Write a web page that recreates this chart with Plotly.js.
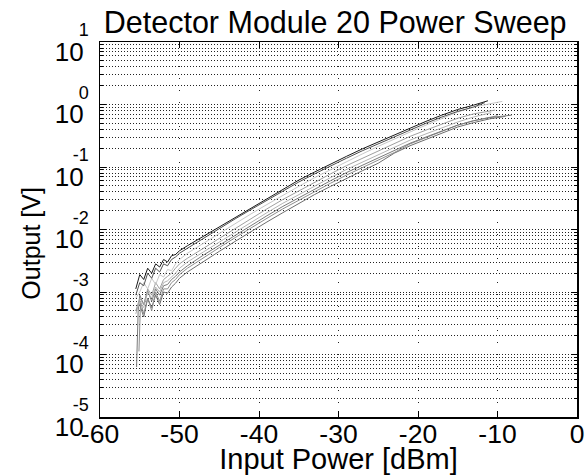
<!DOCTYPE html>
<html>
<head>
<meta charset="utf-8">
<script src="https://cdn.plot.ly/plotly-3.0.1.min.js"></script>
<style>html,body{margin:0;padding:0;background:#fff;}#chart{width:587px;height:475px;}</style>
</head>
<body>
<div id="chart"></div>
<script>
// Input power sample points (dBm)
var noisyX = [-55.5,-55,-54.5,-54,-53.5,-53,-52.5,-52,-51.5,-51,-50.5,-50];
var smoothX = [-49,-47,-45,-43,-41,-39,-37,-35,-33,-31,-29,-27,-25,-23,-21,-19,-17,-15,-13];
var noisyXF = [-55.4,-55.2,-55,-54.5,-54,-53.5,-53,-52.5,-52,-51.5,-51,-50.5,-50];
var noisyXG = [-55.1,-54.9,-54.5,-54,-53.5,-53,-52.5,-52,-51.5,-51,-50.5,-50];
var endX = {A:[-11.2], B:[-11.6], C:[-9.4], D:[-10.3], E:[-10.8], F:[-11,-8.2], G:[-10], H:[-11,-9]};

// Output voltage (V) of each detector channel
var outA = [1.12e-3,1.9e-3,1.585e-3,2.4e-3,2.0e-3,2.82e-3,2.51e-3,3.31e-3,3.02e-3,3.8e-3,3.98e-3,4.57e-3,
  5.5e-3,7.76e-3,1.12e-2,1.585e-2,2.24e-2,3.16e-2,4.47e-2,6.17e-2,8.32e-2,0.112,0.148,0.195,0.251,0.331,0.427,0.537,0.676,0.832,0.977,
  1.148];
var outB = [8.9e-4,1.41e-3,1.26e-3,2.0e-3,1.66e-3,2.4e-3,2.09e-3,2.82e-3,2.63e-3,3.31e-3,3.63e-3,4.17e-3,
  5.01e-3,7.24e-3,1.047e-2,1.479e-2,2.09e-2,2.95e-2,4.17e-2,5.75e-2,7.76e-2,0.105,0.138,0.182,0.234,0.309,0.398,0.501,0.631,0.776,0.912,
  1.072];
var outC = [7.94e-4,1.0e-3,1.41e-3,1.12e-3,1.66e-3,1.32e-3,1.9e-3,1.74e-3,2.29e-3,2.19e-3,2.82e-3,3.31e-3,
  4.17e-3,6.03e-3,8.71e-3,1.23e-2,1.778e-2,2.51e-2,3.55e-2,4.9e-2,6.76e-2,9.12e-2,0.123,0.162,0.214,0.282,0.363,0.468,0.603,0.759,0.912,
  1.122];
var outD = [5.01e-4,7.94e-4,6.31e-4,1.12e-3,8.91e-4,1.41e-3,1.12e-3,1.585e-3,1.78e-3,2.0e-3,2.4e-3,2.82e-3,
  3.47e-3,5.01e-3,7.24e-3,1.047e-2,1.51e-2,2.14e-2,3.02e-2,4.17e-2,5.75e-2,7.76e-2,0.105,0.138,0.182,0.240,0.309,0.389,0.490,0.603,0.708,
  0.813];
var outE = [4.47e-4,7.08e-4,5.62e-4,1.0e-3,7.94e-4,1.2e-3,1.0e-3,1.41e-3,1.51e-3,1.74e-3,2.0e-3,2.4e-3,
  3.02e-3,4.37e-3,6.31e-3,9.12e-3,1.32e-2,1.86e-2,2.63e-2,3.63e-2,5.01e-2,6.76e-2,9.12e-2,0.120,0.158,0.209,0.269,0.339,0.427,0.525,0.631,
  0.741];
var outF = [6.31e-5,5.01e-4,8.91e-4,6.31e-4,1.047e-3,7.08e-4,1.12e-3,8.91e-4,1.26e-3,1.32e-3,1.585e-3,1.78e-3,2.09e-3,
  2.63e-3,3.89e-3,5.62e-3,8.13e-3,1.175e-2,1.66e-2,2.34e-2,3.24e-2,4.47e-2,6.03e-2,8.13e-2,0.107,0.141,0.186,0.240,0.302,0.380,0.468,0.550,
  0.617,0.676];
var outG = [1.12e-4,7.08e-4,4.47e-4,7.94e-4,5.01e-4,1.0e-3,7.08e-4,1.12e-3,1.12e-3,1.41e-3,1.585e-3,1.9e-3,
  2.4e-3,3.55e-3,5.13e-3,7.41e-3,1.07e-2,1.51e-2,2.14e-2,2.95e-2,4.07e-2,5.5e-2,7.41e-2,9.77e-2,0.129,0.170,0.234,0.295,0.372,0.468,0.550,
  0.661];
var outH = [5.01e-4,6.31e-4,3.98e-4,7.94e-4,5.62e-4,8.91e-4,6.31e-4,1.0e-3,9.55e-4,1.2e-3,1.38e-3,1.66e-3,
  2.09e-3,3.09e-3,4.47e-3,6.46e-3,9.33e-3,1.32e-2,1.86e-2,2.63e-2,3.63e-2,4.9e-2,6.61e-2,8.71e-2,0.115,0.166,0.219,0.275,0.347,0.437,0.513,
  0.589,0.646];

// Tick labels
var xTickVals = [-60,-50,-40,-30,-20,-10,0];
var xTickText = ['-60','-50','-40','-30','-20','-10','0'];
var yTickVals = [1e-5,1e-4,1e-3,1e-2,1e-1,1,10];
var yExponents = ['-5','-4','-3','-2','-1','0','1'];

var yTickText = yExponents.map(function(e){
  return '<span style="font-size:18px">' + e + '</span><br><span style="font-size:26px">10</span><span style="font-size:18px">\u00a0</span>';
});

var curves = [
  {name:'H', x:noisyX.concat(smoothX, endX.H), y:outH, color:'#6e6e6e'},
  {name:'G', x:noisyXG.concat(smoothX, endX.G), y:outG, color:'#8e8e8e'},
  {name:'F', x:noisyXF.concat(smoothX, endX.F), y:outF, color:'#7a7a7a'},
  {name:'E', x:noisyX.concat(smoothX, endX.E), y:outE, color:'#b4b4b4'},
  {name:'D', x:noisyX.concat(smoothX, endX.D), y:outD, color:'#a0a0a0'},
  {name:'C', x:noisyX.concat(smoothX, endX.C), y:outC, color:'#c8c8c8'},
  {name:'B', x:noisyX.concat(smoothX, endX.B), y:outB, color:'#505050'},
  {name:'A', x:noisyX.concat(smoothX, endX.A), y:outA, color:'#1a1a1a'}
];

var traces = curves.map(function(c){
  return {x:c.x, y:c.y, type:'scatter', mode:'lines', name:c.name,
    line:{color:c.color, width:1}, showlegend:false, hoverinfo:'x+y'};
});

var FONT = 'Liberation Sans, Arial, Helvetica, sans-serif';

var layout = {
  width:587, height:475,
  margin:{l:100, r:10, t:42, b:58},
  paper_bgcolor:'#ffffff', plot_bgcolor:'#ffffff',
  font:{family:FONT, color:'#000'},
  title:{text:'Detector Module 20 Power Sweep', font:{family:FONT, size:30.5, color:'#000'},
    x:0.571, xanchor:'center', y:0.952, yanchor:'middle', yref:'container'},
  xaxis:{
    range:[-60,0], tickmode:'array', tickvals:xTickVals, ticktext:xTickText,
    ticks:'inside', ticklen:6, tickcolor:'#000', tickwidth:1,
    showline:true, linecolor:'#000', linewidth:1.5, mirror:'ticks',
    showgrid:true, gridcolor:'#222', gridwidth:1, griddash:'1px,11px',
    zeroline:false, tickfont:{family:FONT, size:26.5, color:'#000'},
    ticklabelstandoff:-7, automargin:false,
    title:{text:'Input Power [dBm]', font:{family:FONT, size:29, color:'#000'}, standoff:3}
  },
  yaxis:{
    type:'log', range:[-5,1], tickmode:'array', tickvals:yTickVals, ticktext:yTickText,
    ticks:'inside', ticklen:6, tickcolor:'#000', tickwidth:1,
    showline:true, linecolor:'#000', linewidth:1.5, mirror:'ticks',
    showgrid:true, gridcolor:'#222', gridwidth:1, griddash:'1px,2px',
    zeroline:false, tickfont:{family:FONT, size:19, color:'#000'},
    ticklabelstandoff:6, ticklabelshift:0, automargin:false,
    minor:{dtick:'D1', showgrid:true, gridcolor:'#222', gridwidth:1, griddash:'1px,2px',
      ticks:'inside', ticklen:3, tickcolor:'#000'},
    title:{text:'Output [V]<span style="font-size:25px">\u00a0\u00a0\u00a0\u00a0</span>', font:{family:FONT, size:25, color:'#000'}, standoff:7}
  }
};

Plotly.newPlot('chart', traces, layout, {displayModeBar:false, staticPlot:true});
</script>
</body>
</html>
